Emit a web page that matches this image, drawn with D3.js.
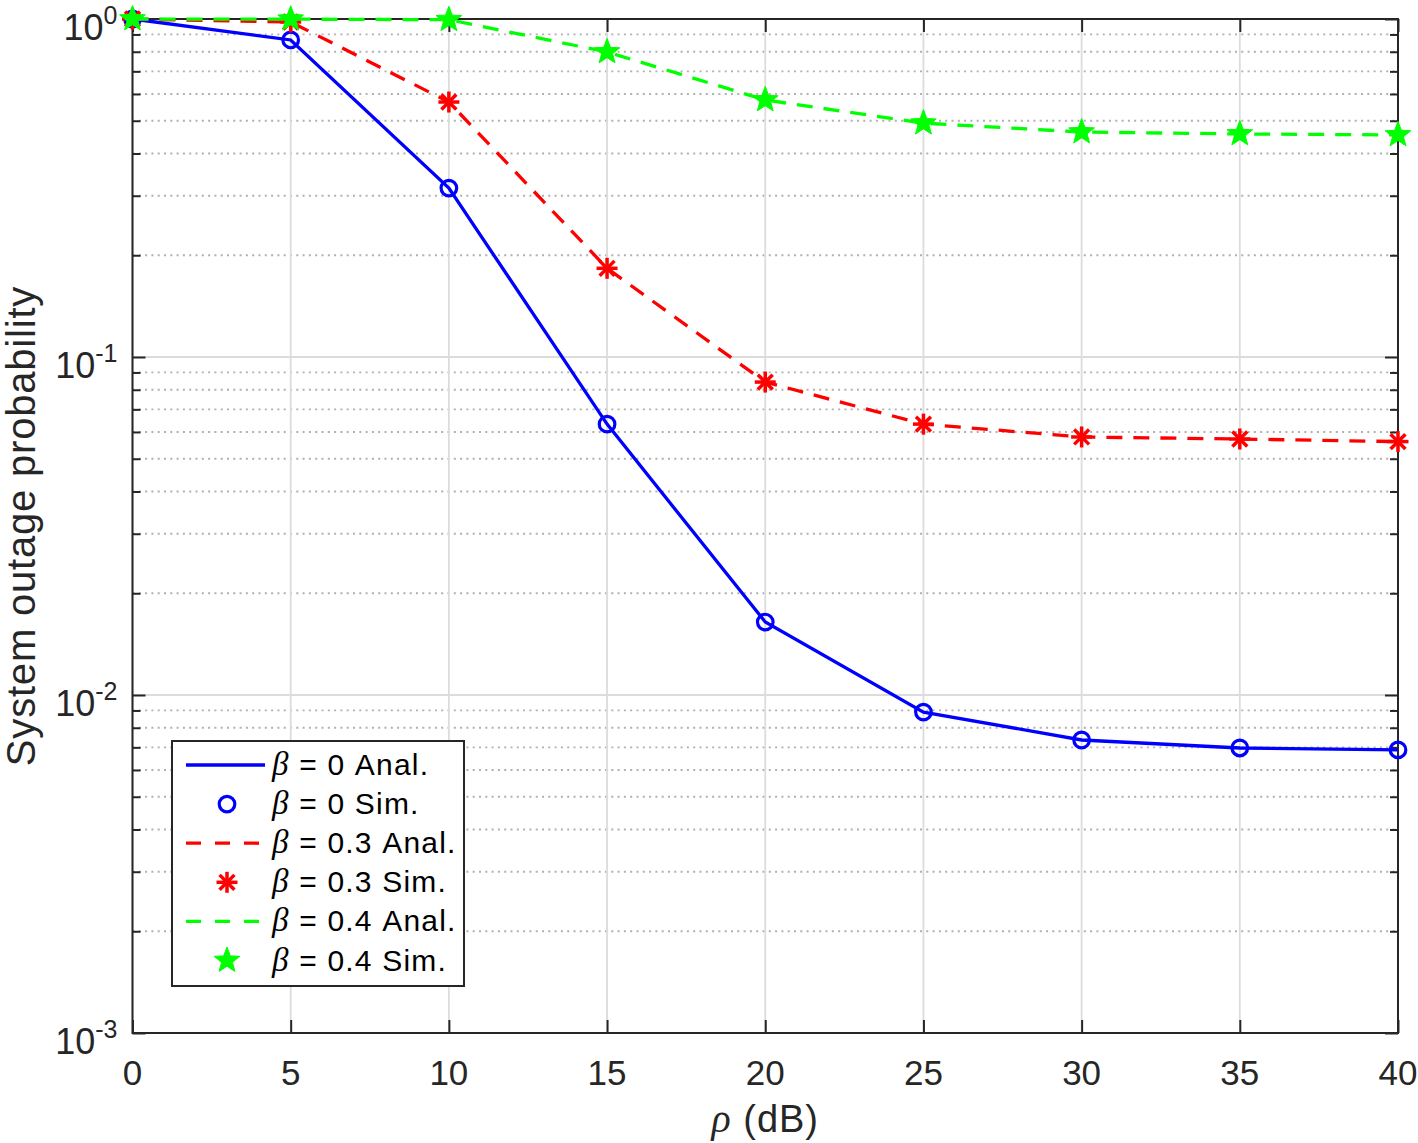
<!DOCTYPE html>
<html><head><meta charset="utf-8">
<script src="https://cdn.jsdelivr.net/npm/d3@7"></script>
<style>body{margin:0;background:#fff}svg{display:block;font-family:"Liberation Sans",Arial,Helvetica,sans-serif}</style>
</head><body><svg id="c" width="1418" height="1143"></svg>
<script>
const xValues = [0, 5, 10, 15, 20, 25, 30, 35, 40];
const beta0 = [1.0, 0.867, 0.316, 0.0633, 0.01644, 0.0089, 0.00736, 0.00697, 0.00688];
const beta03 = [1.0, 0.98, 0.568, 0.183, 0.0843, 0.0633, 0.058, 0.0572, 0.0562];
const beta04 = [1.0, 0.999, 0.995, 0.799, 0.576, 0.492, 0.463, 0.457, 0.454];
const xTicks = [0, 5, 10, 15, 20, 25, 30, 35, 40];
const yDecades = [-3, -2, -1, 0];
const legendLabels = ["0 Anal.", "0 Sim.", "0.3 Anal.", "0.3 Sim.", "0.4 Anal.", "0.4 Sim."];

const svg = d3.select("#c");
const L = 132.5, R = 1398, T = 19, B = 1033;
const x = d3.scaleLinear().domain([0, 40]).range([L, R]);
const y = d3.scaleLog().domain([1e-3, 1]).range([B, T]);
const axisColor = "#262626";

// grid
const minor = [];
for (let d = -3; d < 0; d++) for (let k = 2; k <= 9; k++) minor.push(k * Math.pow(10, d));
const g = svg.append("g");
g.selectAll(".mg").data(minor).join("line")
  .attr("x1", L).attr("x2", R).attr("y1", d => y(d)).attr("y2", d => y(d))
  .attr("stroke", "#b0b0b0").attr("stroke-width", 1.8).attr("stroke-dasharray", "2,4.3");
g.selectAll(".yg").data(yDecades.map(d => Math.pow(10, d))).join("line")
  .attr("x1", L).attr("x2", R).attr("y1", d => y(d)).attr("y2", d => y(d))
  .attr("stroke", "#dcdcdc").attr("stroke-width", 1.8);
g.selectAll(".xg").data(xTicks).join("line")
  .attr("x1", d => x(d)).attr("x2", d => x(d)).attr("y1", T).attr("y2", B)
  .attr("stroke", "#dcdcdc").attr("stroke-width", 1.8);

// axes via d3 axis (inner ticks)
const axB = d3.axisBottom(x).tickValues(xTicks).tickSizeInner(-13).tickSizeOuter(0).tickFormat("");
const axT = d3.axisTop(x).tickValues(xTicks).tickSizeInner(-13).tickSizeOuter(0).tickFormat("");
const majorY = yDecades.map(d => Math.pow(10, d));
function yAxis(side) {
  const gg = svg.append("g").attr("transform", `translate(${side === "left" ? L : R},0)`);
  const a1 = (side === "left" ? d3.axisLeft(y) : d3.axisRight(y)).tickValues(majorY).tickSizeInner(-13).tickSizeOuter(0).tickFormat("");
  gg.call(a1);
  const g2 = svg.append("g").attr("transform", `translate(${side === "left" ? L : R},0)`);
  const a2 = (side === "left" ? d3.axisLeft(y) : d3.axisRight(y)).tickValues(minor).tickSizeInner(-8).tickSizeOuter(0).tickFormat("");
  g2.call(a2);
  [gg, g2].forEach(q => { q.select(".domain").remove(); q.selectAll("line").attr("stroke", axisColor).attr("stroke-width", 2); });
}
yAxis("left"); yAxis("right");
[svg.append("g").attr("transform", `translate(0,${B})`).call(axB),
 svg.append("g").attr("transform", `translate(0,${T})`).call(axT)].forEach(q => {
  q.select(".domain").remove(); q.selectAll("line").attr("stroke", axisColor).attr("stroke-width", 2);
});
svg.append("rect").attr("x", L).attr("y", T).attr("width", R - L).attr("height", B - T)
  .attr("fill", "none").attr("stroke", axisColor).attr("stroke-width", 2);

// tick labels
svg.selectAll(".xt").data(xTicks).join("text")
  .attr("x", d => x(d)).attr("y", B + 52).attr("text-anchor", "middle")
  .attr("font-size", 35).attr("fill", axisColor).text(d => d);
yDecades.forEach(d => {
  const t = svg.append("text").attr("x", L - 15).attr("y", y(Math.pow(10, d)) + 21)
    .attr("text-anchor", "end").attr("fill", axisColor).attr("font-size", 36);
  t.append("tspan").text("10");
  t.append("tspan").attr("font-size", 25).attr("dy", -16).text(d);
});

// axis labels
const xl = svg.append("text").attr("x", (L + R) / 2).attr("y", 1132).attr("text-anchor", "middle")
  .attr("font-size", 38).attr("letter-spacing", 1).attr("fill", axisColor);
xl.append("tspan").attr("font-style", "italic").attr("font-family", "Liberation Serif, serif").attr("font-size", 40).text("ρ");
xl.append("tspan").text(" (dB)");
svg.append("text").attr("transform", `translate(35,${(T + B) / 2}) rotate(-90)`)
  .attr("text-anchor", "middle").attr("font-size", 40).attr("letter-spacing", 0.8).attr("fill", axisColor)
  .text("System outage probability");

// series
const line = d3.line().x((d, i) => x(xValues[i])).y(d => y(d));
const series = [
  {vals: beta0, color: "#0000ff", dash: null, marker: "circle"},
  {vals: beta03, color: "#ff0000", dash: "16,11", marker: "asterisk"},
  {vals: beta04, color: "#00ff00", dash: "16,11", marker: "star"}
];
function starPath(ro, ri) {
  let p = "";
  for (let i = 0; i < 10; i++) {
    const r = i % 2 ? ri : ro, a = -Math.PI / 2 + i * Math.PI / 5;
    p += (i ? "L" : "M") + (r * Math.cos(a)).toFixed(2) + "," + (r * Math.sin(a)).toFixed(2);
  }
  return p + "Z";
}
function drawMarker(sel, type, color) {
  if (type === "circle") {
    sel.append("circle").attr("r", 7.8).attr("fill", "none").attr("stroke", color).attr("stroke-width", 3.2);
  } else if (type === "asterisk") {
    const r = 10.5;
    for (let k = 0; k < 4; k++) {
      const a = k * Math.PI / 4;
      sel.append("line").attr("x1", -r * Math.cos(a)).attr("y1", -r * Math.sin(a))
        .attr("x2", r * Math.cos(a)).attr("y2", r * Math.sin(a))
        .attr("stroke", color).attr("stroke-width", 3.5);
    }
  } else {
    sel.append("path").attr("d", starPath(13.5, 5.7)).attr("fill", color).attr("stroke", color).attr("stroke-width", 1);
  }
}
series.forEach(s => {
  svg.append("path").datum(s.vals).attr("d", line).attr("fill", "none")
    .attr("stroke", s.color).attr("stroke-width", 3.3).attr("stroke-dasharray", s.dash);
  s.vals.forEach((v, i) => {
    const m = svg.append("g").attr("transform", `translate(${x(xValues[i])},${y(v)})`);
    drawMarker(m, s.marker, s.color);
  });
});

// legend
const lg = svg.append("g");
lg.append("rect").attr("x", 172).attr("y", 741).attr("width", 292).attr("height", 245)
  .attr("fill", "#fff").attr("stroke", axisColor).attr("stroke-width", 2);
legendLabels.forEach((lab, i) => {
  const cy = 765 + i * 39.1;
  const s = series[Math.floor(i / 2)];
  if (i % 2 === 0) {
    lg.append("line").attr("x1", 186).attr("x2", 265).attr("y1", cy).attr("y2", cy)
      .attr("stroke", s.color).attr("stroke-width", 3.3).attr("stroke-dasharray", s.dash ? "15,14" : null);
  } else {
    drawMarker(lg.append("g").attr("transform", `translate(227,${cy})`), s.marker, s.color);
  }
  const t = lg.append("text").attr("x", 272).attr("y", cy + 10).attr("font-size", 30)
    .attr("letter-spacing", 1.2).attr("fill", "#000");
  t.append("tspan").attr("font-style", "italic").attr("font-family", "Liberation Serif, serif").attr("font-size", 33).text("β");
  t.append("tspan").text(" = " + lab);
});
</script></body></html>
